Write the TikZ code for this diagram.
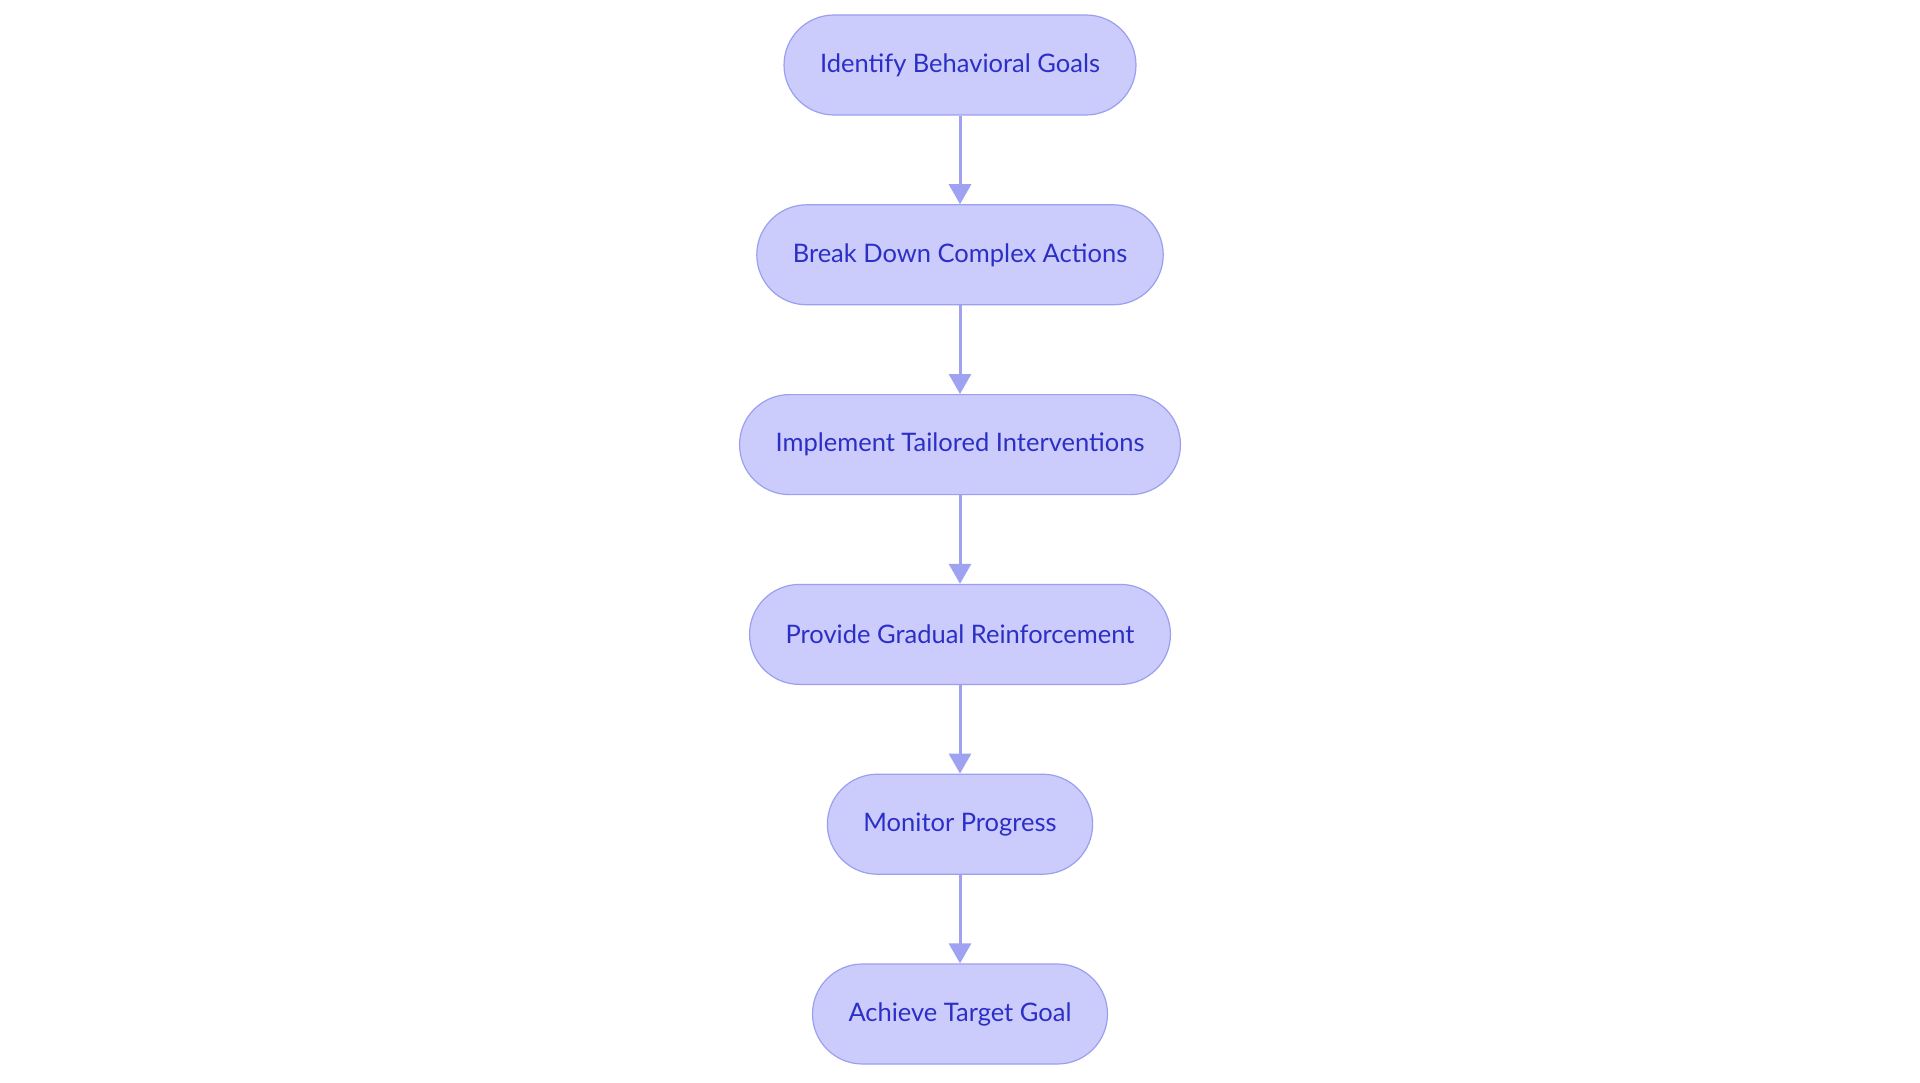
\documentclass[tikz,border=0pt]{standalone}
\usepackage{fontspec}
\setmainfont{Lato}
\usepackage{tikz}
\usetikzlibrary{arrows.meta}
\definecolor{boxfill}{HTML}{CBCCFB}
\definecolor{boxline}{HTML}{9B9FF0}
\definecolor{boxtext}{HTML}{2C2FC6}
\definecolor{arrowline}{HTML}{9FA2F0}
\tikzstyle{stage} = [rectangle, rounded corners=50pt, minimum height=100pt, inner xsep=36pt, text centered, fill=boxfill, draw=boxline, line width=1.2pt, text=boxtext, font=\fontsize{25.5}{30}\selectfont]
\tikzstyle{arrow} = [line width=3pt, draw=arrowline, -{Triangle[width=22pt,length=20pt]}]

\begin{document}
\begin{tikzpicture}[x=1pt, y=1pt, node distance=189.8pt]

        % Fläche wie im Original
        \useasboundingbox (0,0) rectangle (1920,-1083);
        \fill[white] (0,0) rectangle (1920,-1083);

        % Stufen
        \node (goals) [stage] at (960,-65) {Identify Behavioral Goals};
        \node (breakdown) [stage, below of=goals] {Break Down Complex Actions};
        \node (interventions) [stage, below of=breakdown] {Implement Tailored Interventions};
        \node (reinforce) [stage, below of=interventions] {Provide Gradual Reinforcement};
        \node (monitor) [stage, below of=reinforce] {Monitor Progress};
        \node (target) [stage, below of=monitor] {Achieve Target Goal};

        % Pfeile
        \draw [arrow] (goals) -- (breakdown);
        \draw [arrow] (breakdown) -- (interventions);
        \draw [arrow] (interventions) -- (reinforce);
        \draw [arrow] (reinforce) -- (monitor);
        \draw [arrow] (monitor) -- (target);

    \end{tikzpicture}
\end{document}
